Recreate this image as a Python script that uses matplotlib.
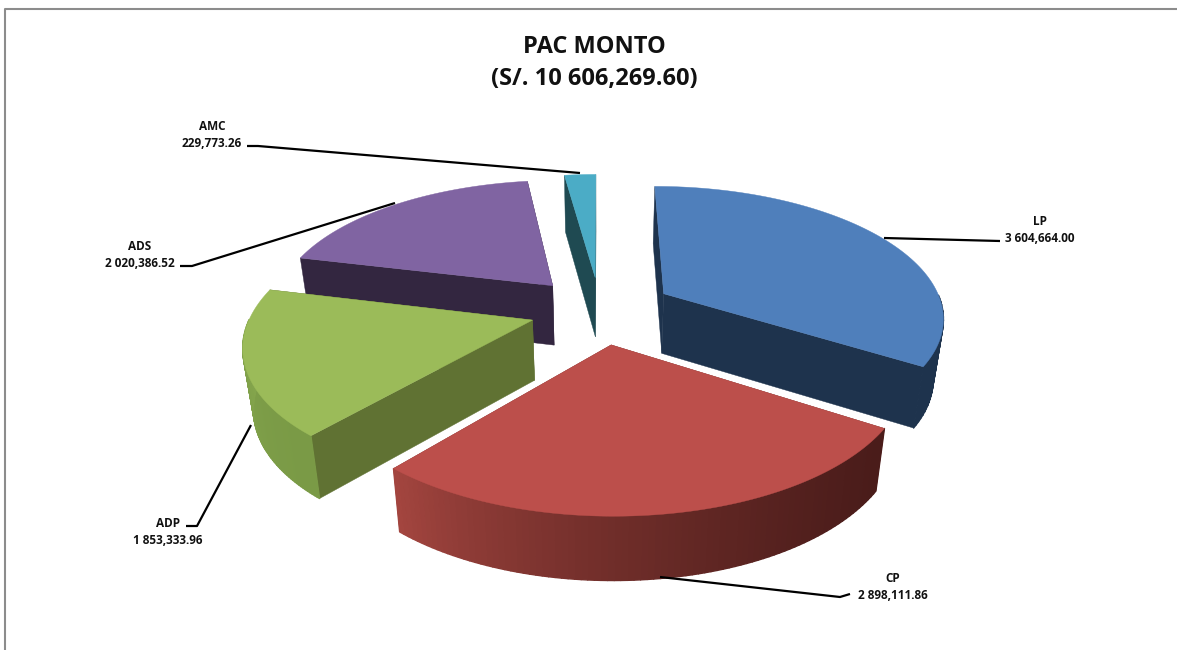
import numpy as np
import matplotlib
matplotlib.use("Agg")
import matplotlib.pyplot as plt
from matplotlib.collections import PolyCollection
from matplotlib.colors import to_rgb

title = "PAC MONTO\n(S/. 10 606,269.60)"
names = ["LP", "CP", "ADP", "ADS", "AMC"]
values = [3604664.00, 2898111.86, 1853333.96, 2020386.52, 229773.26]
value_labels = ["3 604,664.00", "2 898,111.86", "1 853,333.96", "2 020,386.52", "229,773.26"]
top_colors = ["#4F7FBB", "#BC4F4B", "#9BBB59", "#8064A2", "#4BACC6"]
cut_colors = ["#1E334D", "#7A2F2C", "#607233", "#332640", "#1F4A52"]
# wall colour at start and end angle of each slice
wall_start = ["#1E334D", "#4A1C1A", "#7A9A46", "#332640", "#1F4A52"]
wall_end = ["#1E334D", "#A3453F", "#8AAC50", "#332640", "#1F4A52"]
explode = [0.265, 0.26, 0.25, 0.26, 0.26]
draw_order = [4, 3, 0, 2, 1]

# label text anchor and leader line, in pixels
label_pos = [(1040, 230), (893, 587), (168, 532), (140, 255), (212, 135)]
leaders = [
    [(884, 238), (1000, 241)],
    [(660, 577), (840, 597), (850, 594)],
    [(251, 425), (197, 526), (186, 526)],
    [(395, 203), (192, 266), (180, 266)],
    [(580, 173), (258, 146), (247, 146)],
]

CX, CY = 600, 310
SX, SY = 280, 130
PERSP = 0.165
DEPTH = 60


def project(x, y, z):
    s = 1 / (1 + PERSP * y)
    px = CX + SX * x * s * (1 - 0.03 * z)
    py = CY - SY * y * s + DEPTH * z * s ** 0.3
    return px, py


def mix(c1, c2, t):
    a, b = np.array(to_rgb(c1)), np.array(to_rgb(c2))
    return tuple(a + (b - a) * t ** 1.6)


fig = plt.figure(figsize=(11.77, 6.5), dpi=100)
ax = fig.add_axes([0, 0, 1, 1])
ax.set_xlim(0, 1177)
ax.set_ylim(650, 0)
ax.axis("off")

# chart frame, only top and left are visible in the crop
ax.plot([5, 5, 1177], [650, 9, 9], color="#8C8C8C", lw=1.5)

ends = np.cumsum(values) / np.sum(values) * 2 * np.pi
starts = np.concatenate([[0], ends[:-1]])

for i in draw_order:
    a0, a1 = starts[i], ends[i]
    mid = (a0 + a1) / 2
    ox, oy = explode[i] * np.sin(mid), explode[i] * np.cos(mid)
    th = np.linspace(a0, a1, 90)
    rx, ry = ox + np.sin(th), oy + np.cos(th)

    apex_top = project(ox, oy, 0)
    apex_bot = project(ox, oy, 1)
    top_pts = [project(a, b, 0) for a, b in zip(rx, ry)]
    bot_pts = [project(a, b, 1) for a, b in zip(rx, ry)]

    for p_t, p_b in [(top_pts[0], bot_pts[0]), (top_pts[-1], bot_pts[-1])]:
        ax.fill(*zip(apex_top, p_t, p_b, apex_bot), color=cut_colors[i], lw=0.3)

    # only the part of the rim facing the viewer gets a wall
    keep = [j for j in range(len(th) - 1) if np.cos(th[j]) < 0]
    quads = [[top_pts[j], top_pts[j + 1], bot_pts[j + 1], bot_pts[j]] for j in keep]
    cols = [mix(wall_start[i], wall_end[i], j / (len(th) - 2)) for j in keep]
    ax.add_collection(PolyCollection(quads, facecolors=cols, edgecolors=cols, linewidths=1.0))

    ax.fill(*zip(apex_top, *top_pts), color=top_colors[i], lw=0.3)

for line in leaders:
    ax.plot(*zip(*line), color="black", lw=1.6, solid_capstyle="butt")

font = ["Open Sans", "DejaVu Sans"]
ax.text(594, 63, title, ha="center", va="center", fontsize=17, fontweight="bold",
        family=font, color="#111111", linespacing=1.45)
for name, val, (x, y) in zip(names, value_labels, label_pos):
    ax.text(x, y, name + "\n" + val, ha="center", va="center", fontsize=8.5, fontweight="bold",
            family=font, color="#111111", linespacing=1.38)

fig.savefig("out.png", dpi=100)
